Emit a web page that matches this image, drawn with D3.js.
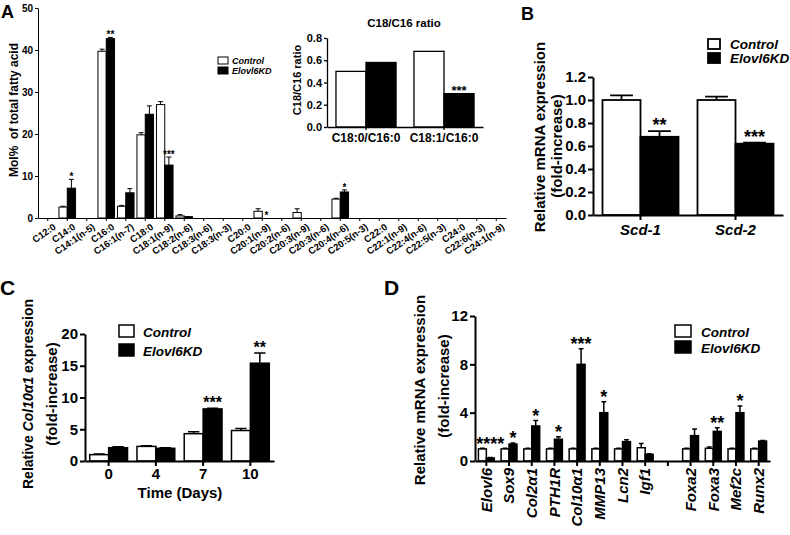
<!DOCTYPE html>
<html>
<head>
<meta charset="utf-8">
<script src="https://cdn.jsdelivr.net/npm/d3@7"></script>
<style>
  body { margin: 0; background: #fff; }
  svg text { font-family: "Liberation Sans", Arial, Helvetica, sans-serif; font-weight: bold; fill: #000; }
</style>
</head>
<body>
<svg id="fig" width="790" height="535"></svg>
<script>
// ---- panel A: fatty acid composition (mol %) ----
const acids = ["C12:0", "C14:0", "C14:1(n-5)", "C16:0", "C16:1(n-7)", "C18:0", "C18:1(n-9)", "C18:2(n-6)",
  "C18:3(n-6)", "C18:3(n-3)", "C20:0", "C20:1(n-9)", "C20:2(n-6)", "C20:3(n-9)", "C20:3(n-6)", "C20:4(n-6)",
  "C20:5(n-3)", "C22:0", "C22:1(n-9)", "C22:4(n-6)", "C22:5(n-3)", "C24:0", "C22:6(n-3)", "C24:1(n-9)"];
const acidControl    = [0, 2.6, 0, 39.7, 2.8, 19.8, 27.0, 0.5, 0, 0, 0, 1.6, 0, 1.3, 0, 4.5, 0, 0, 0, 0, 0, 0, 0, 0];
const acidControlErr = [0, 0.2, 0, 0.5, 0.2, 0.5, 0.7, 0.3, 0, 0, 0, 0.6, 0, 0.9, 0, 0.2, 0, 0, 0, 0, 0, 0, 0, 0];
const acidKD         = [0, 7.1, 0, 42.7, 6.0, 24.7, 12.6, 0.3, 0, 0, 0, 0, 0, 0, 0, 6.2, 0, 0, 0, 0, 0, 0, 0, 0];
const acidKDErr      = [0, 2.1, 0, 0.3, 1.0, 2.0, 1.9, 0.05, 0, 0, 0, 0, 0, 0, 0, 0.5, 0, 0, 0, 0, 0, 0, 0, 0];
const acidStars      = ["", "*", "", "**", "", "", "***", "", "", "", "", "*", "", "", "", "*", "", "", "", "", "", "", "", ""];
const acidTicks = [0, 10, 20, 30, 40, 50];

// inset: C18/C16 ratio
const ratios = ["C18:0/C16:0", "C18:1/C16:0"];
const ratioControl = [0.50, 0.68];
const ratioKD = [0.58, 0.30];
const ratioStars = ["", "***"];
const ratioTicks = [0, 0.2, 0.4, 0.6, 0.8];

// ---- panel B: Scd expression ----
const scdGenes = ["Scd-1", "Scd-2"];
const scdControl = [1.0, 1.0];
const scdControlErr = [0.04, 0.03];
const scdKD = [0.68, 0.62];
const scdKDErr = [0.05, 0.01];
const scdStars = ["**", "***"];
const scdTicks = [0, 0.2, 0.4, 0.6, 0.8, 1.0, 1.2];

// ---- panel C: Col10a1 time course ----
const days = ["0", "4", "7", "10"];
const colControl = [1.0, 2.3, 4.3, 4.8];
const colControlErr = [0.1, 0.1, 0.3, 0.3];
const colKD = [2.1, 2.0, 8.2, 15.4];
const colKDErr = [0.15, 0.1, 0.1, 1.6];
const colStars = ["", "", "***", "**"];
const colTicks = [0, 5, 10, 15, 20];

// ---- panel D: marker genes (empty slot is the gap) ----
const genes = ["Elovl6", "Sox9", "Col2\u03b11", "PTH1R", "Col10\u03b11", "MMP13", "Lcn2", "Igf1", "", "Foxa2", "Foxa3", "Mef2c", "Runx2"];
const geneControl    = [1.0, 1.0, 1.0, 1.0, 1.0, 1.0, 1.0, 1.1, 0, 1.0, 1.05, 1.0, 1.0];
const geneControlErr = [0.05, 0.05, 0.05, 0.05, 0.05, 0.05, 0.05, 0.35, 0, 0.05, 0.1, 0.05, 0.05];
const geneKD         = [0.25, 1.4, 2.9, 1.8, 8.0, 4.0, 1.6, 0.55, 0, 2.1, 2.45, 4.0, 1.65];
const geneKDErr      = [0.05, 0.1, 0.45, 0.2, 1.3, 0.9, 0.15, 0.05, 0, 0.55, 0.3, 0.55, 0.05];
const geneStars      = ["****", "*", "*", "*", "***", "*", "", "", "", "", "**", "*", ""];
const geneTicks = [0, 4, 8, 12];

const seriesNames = ["Control", "Elovl6KD"];

const svg = d3.select("#fig");

function barPanel(p) {
  const x0 = d3.scaleBand().domain(p.cats.map((d, i) => i)).range([p.left, p.right])
    .paddingInner(p.pad).paddingOuter(p.pad / 2);
  const x1 = d3.scaleBand().domain([0, 1]).range([0, x0.bandwidth()]);
  const y = d3.scaleLinear().domain([0, p.max]).range([p.bottom, p.top]);
  const g = svg.append("g");

  const bars = [];
  p.cats.forEach((c, i) => {
    [[p.ctrl, p.ctrlErr, "#fff"], [p.kd, p.kdErr, "#000"]].forEach(([v, e, fill], s) => {
      if (v[i] > 0) bars.push({ i, s, v: v[i], e: e ? e[i] : 0, fill });
    });
  });

  g.selectAll("rect.bar").data(bars).join("rect").attr("class", "bar")
    .attr("x", d => x0(d.i) + x1(d.s))
    .attr("width", x1.bandwidth())
    .attr("y", d => y(d.v))
    .attr("height", d => y(0) - y(d.v))
    .attr("fill", d => d.fill)
    .attr("stroke", "#000")
    .attr("stroke-width", p.barW);

  const errs = bars.filter(d => d.e > 0);
  const cap = Math.max(4, x1.bandwidth() * 0.6);
  g.selectAll("path.err").data(errs).join("path").attr("class", "err")
    .attr("d", d => {
      const cx = x0(d.i) + x1(d.s) + x1.bandwidth() / 2;
      return `M${cx},${y(d.v)}V${y(d.v + d.e)}M${cx - cap / 2},${y(d.v + d.e)}H${cx + cap / 2}`;
    })
    .attr("fill", "none").attr("stroke", "#000").attr("stroke-width", p.barW);

  // significance stars above the knock-down bar (or above the taller of the pair)
  const top = i => {
    const kd = p.kd[i] + (p.kdErr ? p.kdErr[i] : 0);
    const ct = p.ctrl[i] + (p.ctrlErr ? p.ctrlErr[i] : 0);
    return p.starMax ? Math.max(kd, ct) : kd;
  };
  const stars = p.stars.map((t, i) => ({ t, i })).filter(d => d.t);
  g.selectAll("text.star").data(stars).join("text").attr("class", "star")
    .attr("x", d => x0(d.i) + x1(1) + x1.bandwidth() / 2)
    .attr("y", d => y(top(d.i)) - p.starGap + 0.3 * p.starFont)
    .attr("text-anchor", "middle")
    .attr("font-size", p.starFont)
    .text(d => d.t);

  const yAxis = g.append("g").attr("transform", `translate(${p.left},0)`)
    .call(d3.axisLeft(y).tickValues(p.ticks).tickFormat(p.fmt).tickSize(p.tick).tickSizeOuter(0).tickPadding(2))
    .attr("font-family", null).attr("font-size", p.tickFont);
  const xAxis = g.append("g").attr("transform", `translate(0,${p.bottom})`)
    .call(d3.axisBottom(x0).tickFormat(i => p.cats[i]).tickSize(p.tick).tickSizeOuter(0).tickPadding(p.xPad))
    .attr("font-family", null).attr("font-size", p.xFont);
  [yAxis, xAxis].forEach(a => a.selectAll("path,line").attr("stroke", "#000").attr("stroke-width", p.axisW));
  if (p.xLabels) p.xLabels(xAxis.selectAll("text"));

  // legend
  if (p.legend) {
    const L = p.legend;
    const lg = g.append("g").attr("transform", `translate(${L.x},${L.y})`);
    seriesNames.forEach((name, s) => {
      lg.append("rect").attr("x", 0).attr("y", s * L.dy).attr("width", L.w).attr("height", L.h)
        .attr("fill", s ? "#000" : "#fff").attr("stroke", "#000").attr("stroke-width", p.barW);
      lg.append("text").attr("x", L.w + L.gap).attr("y", s * L.dy + L.h)
        .attr("font-size", L.font).attr("font-style", "italic").text(name);
    });
  }
  return { g, x0, y };
}

function yTitle(x, y, size, parts) {
  const t = svg.append("text").attr("transform", `translate(${x},${y}) rotate(-90)`)
    .attr("text-anchor", "middle").attr("font-size", size).style("white-space", "pre");
  parts.forEach(([s, it]) => t.append("tspan").attr("font-style", it ? "italic" : null).text(s));
}

function letter(x, y, size, s) {
  svg.append("text").attr("x", x).attr("y", y).attr("font-size", size).text(s);
}

// A
barPanel({
  cats: acids, ctrl: acidControl, ctrlErr: acidControlErr, kd: acidKD, kdErr: acidKDErr, stars: acidStars,
  left: 38, right: 506, bottom: 218, top: 8, max: 50, pad: 0.15,
  ticks: acidTicks, fmt: d3.format("d"), tick: 3, tickFont: 10, xFont: 9.5, xPad: 2,
  barW: 1, axisW: 1, starFont: 10, starGap: 2,
  xLabels: t => t.attr("text-anchor", "end").attr("y", 0).attr("dy", "0.7em")
    .attr("transform", "translate(5,5) rotate(-35)"),
  legend: { x: 218, y: 57, dy: 10, w: 10, h: 7, gap: 4, font: 9 }
});
yTitle(18, 110, 12, [["Mol%  of total fatty acid", false]]);
letter(1, 18, 18, "A");

// inset
svg.append("text").attr("x", 404).attr("y", 27).attr("text-anchor", "middle").attr("font-size", 11.5).text("C18/C16 ratio");
barPanel({
  cats: ratios, ctrl: ratioControl, kd: ratioKD, stars: ratioStars,
  left: 327, right: 483, bottom: 127, top: 38, max: 0.8, pad: 0.23,
  ticks: ratioTicks, fmt: d3.format(".1f"), tick: 3, tickFont: 11, xFont: 12, xPad: 3,
  barW: 1.3, axisW: 1.3, starFont: 13, starGap: 3
});
yTitle(301, 80, 11, [["C18/C16 ratio", false]]);

// B
barPanel({
  cats: scdGenes, ctrl: scdControl, ctrlErr: scdControlErr, kd: scdKD, kdErr: scdKDErr, stars: scdStars,
  left: 593, right: 783, bottom: 215, top: 77, max: 1.2, pad: 0.2,
  ticks: scdTicks, fmt: d3.format(".1f"), tick: 5, tickFont: 15, xFont: 15, xPad: 4,
  barW: 1.8, axisW: 2, starFont: 18, starGap: 5,
  xLabels: t => t.attr("font-style", "italic"),
  legend: { x: 708, y: 39, dy: 14, w: 12, h: 10, gap: 10, font: 13.5 }
});
yTitle(545, 137, 15, [["Relative mRNA expression", false]]);
yTitle(562, 146, 15, [["(fold-increase)", false]]);
letter(521, 20, 18, "B");

// C
barPanel({
  cats: days, ctrl: colControl, ctrlErr: colControlErr, kd: colKD, kdErr: colKDErr, stars: colStars,
  left: 85, right: 274, bottom: 461, top: 334, max: 20, pad: 0.2,
  ticks: colTicks, fmt: d3.format("d"), tick: 5, tickFont: 15, xFont: 15, xPad: 2,
  barW: 1.5, axisW: 2, starFont: 16, starGap: 5,
  legend: { x: 119, y: 325, dy: 19, w: 15, h: 12, gap: 9, font: 13.5 }
});
yTitle(33, 394, 14, [["Relative ", false], ["Col10\u03b11", true], [" expression", false]]);
yTitle(57, 394, 15, [["(fold-increase)", false]]);
svg.append("text").attr("x", 180).attr("y", 498).attr("text-anchor", "middle").attr("font-size", 15).text("Time (Days)");
letter(0, 295, 21, "C");

// D
barPanel({
  cats: genes, ctrl: geneControl, ctrlErr: geneControlErr, kd: geneKD, kdErr: geneKDErr, stars: geneStars,
  left: 475, right: 770, bottom: 461, top: 316, max: 12, pad: 0.3,
  ticks: geneTicks, fmt: d3.format("d"), tick: 5, tickFont: 15, xFont: 15, xPad: 3,
  barW: 1.5, axisW: 2, starFont: 18, starGap: 4, starMax: true,
  xLabels: t => t.attr("font-style", "italic").attr("text-anchor", "end")
    .attr("transform", "rotate(-90)").attr("x", -7).attr("y", 0).attr("dy", "0.35em"),
  legend: { x: 675, y: 325, dy: 16, w: 16, h: 12, gap: 10, font: 13.5 }
});
yTitle(425, 390, 15, [["Relative mRNA expression", false]]);
yTitle(449, 386, 15, [["(fold-increase)", false]]);
letter(384, 295, 21, "D");
</script>
</body>
</html>
